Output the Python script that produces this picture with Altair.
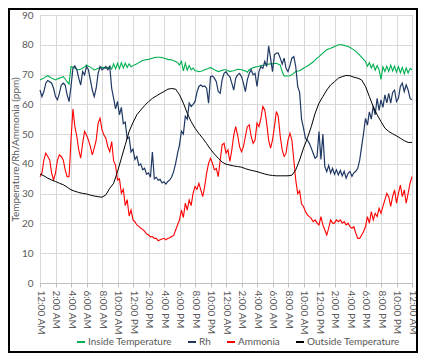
import altair as alt
import pandas as pd

series_names = ["Inside Temperature", "Rh", "Ammonia", "Outside Temperature"]
series_colors = ["#00B050", "#1F3864", "#FF0000", "#000000"]

tick_labels = ["12:00 AM", "2:00 AM", "4:00 AM", "6:00 AM", "8:00 AM", "10:00 AM",
               "12:00 PM", "2:00 PM", "4:00 PM", "6:00 PM", "8:00 PM", "10:00 PM",
               "12:00 AM", "2:00 AM", "4:00 AM", "6:00 AM", "8:00 AM", "10:00 AM",
               "12:00 PM", "2:00 PM", "4:00 PM", "6:00 PM", "8:00 PM", "10:00 PM",
               "12:00 AM"]

# readings every 15 minutes (8 per 2-hour row)
inside_temp = [
    68.2, 68.5, 68.8, 69.3, 69.6, 69.2, 68.8, 68.5,
    68.2, 68.5, 68.8, 69.0, 69.3, 68.5, 67.6, 66.8,
    72.7, 72.5, 72.1, 71.8, 71.6, 71.8, 72.1, 72.6,
    73.2, 72.8, 72.5, 72.0, 71.6, 71.8, 72.1, 72.3,
    72.5, 72.3, 72.1, 72.4, 72.7, 71.8, 73.6, 71.9,
    73.8, 72.0, 74.0, 72.2, 73.8, 72.4, 73.6, 72.6,
    73.0, 73.3, 73.6, 74.0, 74.4, 74.7, 74.9, 75.0,
    75.1, 75.3, 75.5, 75.7, 75.8, 75.8, 75.8, 75.7,
    75.5, 75.3, 75.1, 75.0, 74.9, 74.6, 74.4, 74.0,
    73.2, 74.4, 71.2, 73.8, 71.5, 73.0, 71.6, 72.2,
    71.3, 71.2, 71.0, 71.1, 71.3, 71.6, 71.8, 72.1,
    72.3, 72.0, 71.6, 71.3, 71.0, 71.2, 71.4, 71.6,
    71.6, 71.3, 71.0, 71.2, 71.3, 71.5, 71.8, 71.7,
    71.6, 71.4, 71.2, 70.8, 71.6, 72.0, 72.3, 72.5,
    72.7, 72.8, 73.0, 73.1, 73.2, 73.4, 73.5, 73.6,
    73.6, 73.7, 73.8, 73.5, 73.2, 71.0, 69.5, 69.5,
    69.5, 69.6, 69.9, 70.5, 71.0, 71.2, 71.3, 71.7,
    72.1, 72.5, 72.9, 73.3, 73.8, 74.2, 74.9, 75.5,
    76.0, 76.6, 77.2, 77.8, 78.3, 78.6, 78.8, 79.1,
    79.4, 79.7, 80.0, 80.0, 80.0, 79.8, 79.6, 79.4,
    79.1, 78.7, 78.3, 77.8, 77.2, 76.5, 75.8, 75.1,
    74.4, 72.8, 74.0, 72.2, 73.5, 71.5, 73.0, 71.6,
    68.4, 72.6, 71.0, 72.8, 71.0, 73.2, 71.2, 72.8,
    70.8, 72.6, 70.6, 72.4, 70.2, 72.2, 70.5, 72.0,
    71.6,
]

rh = [
    64.8, 62.6, 64.3, 67.1, 68.0, 67.6, 67.1, 65.4,
    62.6, 61.5, 63.7, 66.5, 67.1, 66.5, 63.2, 60.9,
    66.0, 72.1, 72.9, 71.6, 68.8, 66.5, 71.0, 69.9,
    72.7, 71.6, 68.2, 64.8, 62.6, 65.4, 70.4, 72.7,
    71.6, 72.1, 72.7, 71.6, 72.7, 65.4, 62.0, 58.5,
    61.0, 56.5, 59.0, 53.5, 54.0, 48.5, 49.0, 44.0,
    45.0, 41.5, 42.5, 39.5, 40.0, 38.0, 38.5, 36.5,
    37.0, 35.5, 44.0, 35.0, 35.5, 34.5, 34.8, 33.6,
    34.0, 33.2, 34.1, 34.6, 35.7, 37.5, 40.2, 43.5,
    46.4, 51.0, 50.0, 56.0, 55.0, 60.4, 59.3, 60.0,
    60.9, 64.0, 66.0, 66.5, 66.0, 66.2, 65.4, 60.4,
    69.3, 69.5, 68.8, 67.6, 64.3, 63.7, 68.2, 70.4,
    71.0, 69.9, 69.3, 67.1, 64.8, 68.8, 69.9, 70.4,
    69.3, 67.1, 64.3, 68.2, 70.4, 71.6, 69.9, 70.4,
    66.0, 71.0, 72.7, 72.1, 74.4, 72.7, 79.6, 75.5,
    71.0, 76.6, 77.2, 77.2, 75.5, 73.5, 75.5, 72.1,
    71.0, 73.0, 75.5, 76.0, 72.7, 66.0, 64.0, 55.0,
    52.0, 48.6, 48.0, 46.9, 45.3, 43.6, 41.9, 42.5,
    50.9, 41.5, 50.0, 39.1, 37.4, 39.5, 36.9, 38.5,
    36.5, 38.0, 36.3, 37.8, 36.0, 37.5, 35.2, 36.8,
    37.4, 35.8, 37.0, 37.5, 38.5, 41.3, 45.8, 50.3,
    55.3, 53.0, 57.5, 55.0, 59.5, 56.5, 62.0, 58.0,
    61.5, 59.0, 63.2, 60.5, 63.7, 60.4, 64.0, 64.8,
    60.9, 62.0, 66.0, 67.1, 64.3, 66.5, 64.8, 62.0,
    61.5,
]

ammonia = [
    35.7, 36.9, 41.3, 43.6, 42.5, 41.3, 36.9, 34.6,
    36.9, 41.3, 43.0, 42.5, 41.3, 38.0, 35.7, 35.7,
    48.0, 58.4, 52.5, 49.2, 44.7, 41.9, 46.9, 50.9,
    49.7, 48.0, 45.8, 43.0, 45.3, 48.0, 53.7, 55.3,
    51.4, 49.7, 48.6, 45.8, 44.1, 47.5, 41.0, 39.5,
    34.6, 35.0, 30.1, 31.5, 26.0, 28.0, 22.5, 24.5,
    21.2, 20.5, 19.5, 19.0, 18.4, 18.0, 17.3, 16.5,
    16.1, 15.5, 15.6, 15.0, 15.0, 14.2, 14.5, 14.8,
    15.0, 14.5, 15.0, 15.2, 15.6, 16.0, 17.8, 19.5,
    21.2, 24.5, 22.0, 26.8, 24.5, 27.9, 26.0, 30.1,
    32.4, 31.5, 33.5, 31.3, 29.0, 32.4, 36.9, 40.2,
    41.9, 40.2, 38.0, 38.5, 35.7, 41.3, 46.4, 46.9,
    43.6, 44.7, 40.8, 44.7, 49.7, 52.5, 49.7, 45.8,
    44.1, 45.8, 49.2, 52.5, 53.1, 49.2, 46.9, 48.0,
    53.7, 52.5, 55.3, 59.3, 58.1, 53.7, 48.0, 45.3,
    48.0, 52.5, 57.6, 55.9, 49.2, 44.7, 42.5, 43.6,
    48.0, 50.3, 48.0, 41.3, 34.6, 30.0, 31.0, 26.5,
    25.7, 24.0, 22.9, 22.3, 21.7, 20.6, 21.2, 20.1,
    19.5, 22.3, 19.5, 17.8, 16.1, 18.4, 21.2, 20.1,
    20.1, 21.2, 20.6, 21.2, 20.1, 20.6, 19.5, 20.1,
    18.9, 18.4, 18.9, 16.7, 15.0, 15.0, 16.1, 17.3,
    18.9, 22.3, 20.1, 24.0, 21.2, 23.4, 22.3, 25.1,
    23.4, 25.7, 27.9, 30.1, 29.0, 25.7, 29.0, 31.3,
    26.8, 30.1, 32.9, 29.0, 31.3, 26.8, 30.1, 33.5,
    35.7,
]

# readings every 30 minutes (4 per 2-hour row)
outside_temp = [
    36.6, 36.0, 35.2, 34.6,
    34.1, 33.5, 33.0, 32.2,
    31.3, 30.8, 30.4, 30.1,
    29.9, 29.5, 29.2, 29.0,
    28.8, 29.6, 31.8, 33.5,
    37.4, 41.9, 46.4, 50.9,
    53.9, 56.5, 58.1, 59.6,
    60.9, 62.0, 62.8, 63.6,
    64.3, 65.1, 65.3, 65.1,
    63.2, 60.4, 57.0, 54.2,
    52.0, 50.2, 48.6, 46.8,
    44.9, 43.3, 41.9, 40.6,
    39.9, 39.6, 39.3, 39.1,
    38.9, 38.4, 38.0, 37.7,
    37.4, 37.0, 36.6, 36.3,
    36.1, 36.0, 36.0, 36.0,
    36.0, 36.2, 38.0, 41.3,
    45.3, 48.6, 52.5, 57.0,
    60.4, 62.6, 64.8, 66.5,
    67.6, 68.8, 69.3, 69.7,
    69.6, 69.1, 68.8, 68.2,
    66.0, 62.6, 59.2, 56.5,
    54.2, 52.0, 50.9, 50.1,
    49.4, 48.6, 47.8, 47.2,
    47.2,
]

frames = []
for name, vals, step in [
    ("Inside Temperature", inside_temp, 0.25),
    ("Rh", rh, 0.25),
    ("Ammonia", ammonia, 0.25),
    ("Outside Temperature", outside_temp, 0.5),
]:
    frames.append(pd.DataFrame({
        "hour": [i * step for i in range(len(vals))],
        "value": vals,
        "series": name,
    }))
df = pd.concat(frames, ignore_index=True)

label_array = "[" + ",".join("'" + t + "'" for t in tick_labels) + "]"

base = alt.Chart(df).encode(
    x=alt.X("hour:Q",
            scale=alt.Scale(domain=[0, 48], nice=False, zero=False),
            axis=alt.Axis(values=list(range(0, 49, 2)),
                          labelExpr=label_array + "[round(datum.value / 2)]",
                          labelAngle=90, labelAlign="left", labelBaseline="middle",
                          labelFontSize=10, labelPadding=3, tickSize=4,
                          labelOverlap=False, labelBound=False, labelFlush=False,
                          title=None, grid=True)),
    y=alt.Y("value:Q",
            scale=alt.Scale(domain=[0, 90], nice=False),
            axis=alt.Axis(values=list(range(0, 91, 10)), ticks=False, domain=False,
                          labelFontSize=10, labelPadding=7,
                          title="Temperature/Rh/Ammonia (ppm)",
                          titleFontSize=10, titleFontWeight="normal",
                          titleAngle=270, titleX=-22, titleY=134,
                          titleAlign="center", titleBaseline="alphabetic")),
    color=alt.Color("series:N",
                    scale=alt.Scale(domain=series_names, range=series_colors),
                    legend=alt.Legend(orient="none", legendX=36, legendY=322,
                                      direction="horizontal", title=None,
                                      symbolType="stroke", symbolStrokeWidth=2,
                                      symbolSize=64, labelFontSize=10,
                                      labelColor="#595959", columnPadding=12,
                                      labelOffset=2, padding=0)),
)

widths = [1.1, 1.2, 1.1, 1.0]
layers = [
    base.transform_filter(alt.datum.series == s).mark_line(strokeWidth=w)
    for s, w in zip(series_names, widths)
]

frame = alt.Chart(pd.DataFrame({"a": [0]})).mark_rect(
    filled=False, stroke="#000000", strokeWidth=2
).encode(x=alt.value(-31), x2=alt.value(377), y=alt.value(-6), y2=alt.value(337))

chart = alt.layer(*layers, frame).properties(
    width=372, height=268,
    autosize=alt.AutoSizeParams(type="none"),
    padding={"left": 32, "top": 7, "right": 6, "bottom": 70},
    background="white",
).configure_axis(
    labelFont="Lato", titleFont="Lato", labelColor="#595959", titleColor="#595959",
    gridColor="#d9d9d9", domainColor="#bfbfbf", tickColor="#bfbfbf",
).configure_legend(
    labelFont="Lato",
).configure_view(
    stroke="#bfbfbf", strokeWidth=1,
)

chart.save("out.html", embed_options={"renderer": "svg", "actions": False})
